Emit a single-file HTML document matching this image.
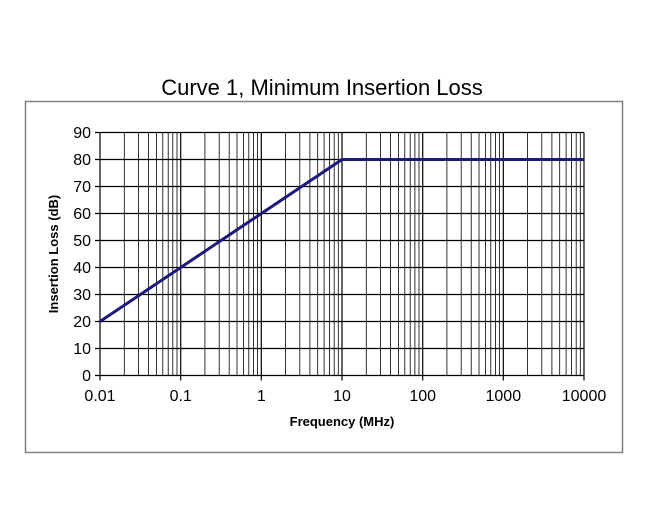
<!DOCTYPE html>
<html><head><style>body{margin:0;background:#fff}svg{display:block}</style></head><body>
<svg width="650" height="524" xmlns="http://www.w3.org/2000/svg" font-family="Liberation Sans, sans-serif">
<rect x="25.5" y="101.5" width="597" height="351" fill="#fff" stroke="#808080" stroke-width="1.5"/>
<text x="322" y="95" font-size="22" text-anchor="middle">Curve 1, Minimum Insertion Loss</text>
<path fill="none" stroke="#000" stroke-width="0.8" d="
M124.3 132.5V375.5M138.5 132.5V375.5M148.6 132.5V375.5M156.4 132.5V375.5M162.8 132.5V375.5M168.2 132.5V375.5M172.8 132.5V375.5M177 132.5V375.5
M204.9 132.5V375.5M219.2 132.5V375.5M229.2 132.5V375.5M237 132.5V375.5M243.4 132.5V375.5M248.8 132.5V375.5M253.5 132.5V375.5M257.6 132.5V375.5
M285.6 132.5V375.5M299.8 132.5V375.5M309.9 132.5V375.5M317.7 132.5V375.5M324.1 132.5V375.5M329.5 132.5V375.5M334.2 132.5V375.5M338.3 132.5V375.5
M366.3 132.5V375.5M380.5 132.5V375.5M390.6 132.5V375.5M398.4 132.5V375.5M404.8 132.5V375.5M410.2 132.5V375.5M414.9 132.5V375.5M419 132.5V375.5
M446.9 132.5V375.5M461.2 132.5V375.5M471.2 132.5V375.5M479 132.5V375.5M485.4 132.5V375.5M490.8 132.5V375.5M495.5 132.5V375.5M499.6 132.5V375.5
M527.6 132.5V375.5M541.8 132.5V375.5M551.9 132.5V375.5M559.7 132.5V375.5M566.1 132.5V375.5M571.5 132.5V375.5M576.2 132.5V375.5M580.3 132.5V375.5"/>
<path fill="none" stroke="#000" stroke-width="1.2" d="M100 132.5V380.5M180.7 132.5V380.5M261.3 132.5V380.5M342 132.5V380.5M422.7 132.5V380.5M503.3 132.5V380.5M584 132.5V380.5"/>
<path fill="none" stroke="#000" stroke-width="1.3" d="M95 375.5H584M95 348.5H584M95 321.5H584M95 294.5H584M95 267.5H584M95 240.5H584M95 213.5H584M95 186.5H584M95 159.5H584M95 132.5H584"/>
<g font-size="16" text-anchor="end">
<text x="91" y="381">0</text><text x="91" y="354">10</text><text x="91" y="327">20</text><text x="91" y="300">30</text><text x="91" y="273">40</text><text x="91" y="246">50</text><text x="91" y="219">60</text><text x="91" y="192">70</text><text x="91" y="165">80</text><text x="91" y="138">90</text>
</g>
<g font-size="16" text-anchor="middle">
<text x="100" y="401">0.01</text><text x="180.7" y="401">0.1</text><text x="261.3" y="401">1</text><text x="342" y="401">10</text><text x="422.7" y="401">100</text><text x="503.3" y="401">1000</text><text x="584" y="401">10000</text>
</g>
<polyline points="100,321.5 342,159.5 584,159.5" fill="none" stroke="#1a1a7a" stroke-width="3"/>
<text x="342" y="426" font-size="13" font-weight="bold" text-anchor="middle">Frequency (MHz)</text>
<text transform="translate(58,254) rotate(-90)" font-size="13" font-weight="bold" text-anchor="middle">Insertion Loss (dB)</text>
</svg>
</body></html>
